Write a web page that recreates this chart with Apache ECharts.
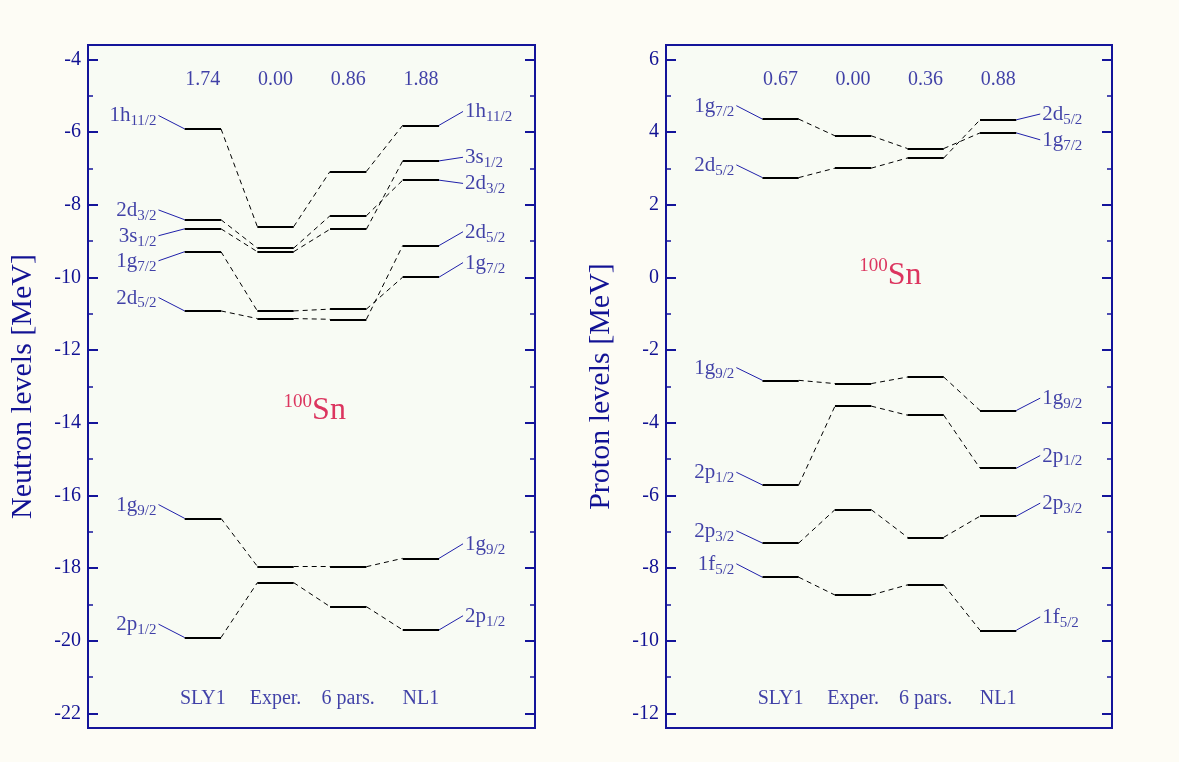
<!DOCTYPE html>
<html>
<head>
<meta charset="utf-8">
<script src="https://cdn.jsdelivr.net/npm/echarts@6/dist/echarts.min.js"></script>
<style>
html,body{margin:0;padding:0;background:#fdfcf5;}
#chart{width:1179px;height:762px;}
</style>
</head>
<body>
<div id="chart"></div>
<script>
// ---------------- data ----------------
const models = ['SLY1', 'Exper.', '6 pars.', 'NL1'];
const neutronRms = ['1.74', '0.00', '0.86', '1.88'];
const protonRms = ['0.67', '0.00', '0.36', '0.88'];

const neutronNames = ['1h', '2d', '3s', '1g', '2d', '1g', '2p'];
const neutronJ = ['11/2', '3/2', '1/2', '7/2', '5/2', '9/2', '1/2'];
const neutronSLY1 = [-5.91, -8.41, -8.66, -9.29, -10.92, -16.63, -19.91];
const neutronExper = [-8.60, -9.19, -9.29, -10.92, -11.13, -17.95, -18.40];
const neutron6pars = [-7.08, -8.30, -8.67, -10.87, -11.15, -17.96, -19.06];
const neutronNL1 = [-5.81, -7.32, -6.79, -9.99, -9.12, -17.73, -19.70];
const neutronLabelLeft = [-5.54, -8.14, -8.85, -9.54, -10.55, -16.25, -19.54];
const neutronLabelRight = [-5.43, -7.41, -6.69, -9.59, -8.74, -17.33, -19.31];

const protonNames = ['1g', '2d', '1g', '2p', '2p', '1f'];
const protonJ = ['7/2', '5/2', '9/2', '1/2', '3/2', '5/2'];
const protonSLY1 = [4.36, 2.75, -2.83, -5.71, -7.31, -8.25];
const protonExper = [3.90, 3.01, -2.92, -3.54, -6.39, -8.74];
const proton6pars = [3.55, 3.29, -2.74, -3.79, -7.15, -8.46];
const protonNL1 = [3.98, 4.34, -3.66, -5.25, -6.57, -9.71];
const protonLabelLeft = [4.73, 3.10, -2.48, -5.36, -6.97, -7.88];
const protonLabelRight = [3.79, 4.50, -3.32, -4.90, -6.21, -9.34];

const nucleus = ['100', 'Sn'];

// ---------------- styling / layout ----------------
const FONT = '"Liberation Serif", "DejaVu Serif", serif';
const AXIS = '#14149a';
const TEXT = '#121294';
const RED = '#d4043a';
const HALF = 0.25;      // half-width of a level bar (x units)
const LEAD_L = 0.36;    // leader length left
const LEAD_R = 0.33;    // leader length right

function buildPanel(gi, yi, names, js, vals, labL, labR, rms, rmsY, modY, nucPos) {
  const levels = [], conns = [], leaders = [], texts = [];
  for (let k = 0; k < names.length; k++) {
    for (let c = 0; c < vals.length; c++) {
      const x = c + 1;
      levels.push({ coords: [[x - HALF, vals[c][k]], [x + HALF, vals[c][k]]] });
      if (c < vals.length - 1) {
        conns.push({ coords: [[x + HALF, vals[c][k]], [x + 1 - HALF, vals[c + 1][k]]] });
      }
    }
    const xl = 1 - HALF, xr = vals.length + HALF;
    leaders.push({ coords: [[xl - LEAD_L, labL[k]], [xl, vals[0][k]]] });
    leaders.push({ coords: [[xr, vals[vals.length - 1][k]], [xr + LEAD_R, labR[k]]] });
    texts.push({ value: [xl - LEAD_L, labL[k]], label: { formatter: '{m|' + names[k] + '}{s|' + js[k] + '}', align: 'right', offset: [-2, 6] } });
    texts.push({ value: [xr + LEAD_R, labR[k]], label: { formatter: '{m|' + names[k] + '}{s|' + js[k] + '}', align: 'left', offset: [2, 6] } });
  }
  const heads = [];
  for (let c = 0; c < models.length; c++) {
    heads.push({ value: [c + 1, rmsY], label: { formatter: rms[c], fontSize: 20 } });
    heads.push({ value: [c + 1, modY], label: { formatter: models[c], fontSize: 20 } });
  }
  heads.push({ value: nucPos, label: { formatter: '{sup|' + nucleus[0] + '}{big|' + nucleus[1] + '}' } });

  const common = { xAxisIndex: gi, yAxisIndex: yi, animation: false, silent: true };
  return [
    Object.assign({ type: 'lines', coordinateSystem: 'cartesian2d', polyline: false, data: conns,
      lineStyle: { color: '#000', width: 1, type: [5, 4], opacity: 1 } }, common),
    Object.assign({ type: 'lines', coordinateSystem: 'cartesian2d', polyline: false, data: leaders,
      lineStyle: { color: '#2020aa', width: 1, opacity: 1 } }, common),
    Object.assign({ type: 'lines', coordinateSystem: 'cartesian2d', polyline: false, data: levels,
      lineStyle: { color: '#000', width: 2, opacity: 1 } }, common),
    Object.assign({ type: 'scatter', symbolSize: 0, data: texts,
      label: { show: true, position: 'inside', verticalAlign: 'middle', color: TEXT, fontFamily: FONT,
        rich: {
          m: { fontFamily: FONT, fontSize: 21, color: TEXT, lineHeight: 20, verticalAlign: 'top' },
          s: { fontFamily: FONT, fontSize: 15, color: TEXT, lineHeight: 32 }
        } } }, common),
    Object.assign({ type: 'scatter', symbolSize: 0, data: heads,
      label: { show: true, position: 'inside', align: 'center', verticalAlign: 'middle', color: TEXT, fontFamily: FONT,
        rich: {
          sup: { fontFamily: FONT, fontSize: 19, color: RED, lineHeight: 13, verticalAlign: 'top' },
          big: { fontFamily: FONT, fontSize: 32, color: RED, lineHeight: 37 }
        } } }, common)
  ];
}

function yAxis(gi, min, max, pos, labels, name) {
  return {
    type: 'value', gridIndex: gi, position: pos, min: min, max: max, splitNumber: 9,
    name: name, nameLocation: 'middle', nameGap: 50,
    nameTextStyle: { fontFamily: FONT, fontSize: 30, color: TEXT },
    axisLine: { show: true, onZero: false, lineStyle: { color: AXIS, width: 2 } },
    axisTick: { show: true, inside: true, length: 10, lineStyle: { color: AXIS, width: 2 } },
    minorTick: { show: true, splitNumber: 2, length: 5, lineStyle: { color: AXIS, width: 1.5 } },
    axisLabel: { show: labels, showMinLabel: false, showMaxLabel: false, margin: 7,
      fontFamily: FONT, fontSize: 20, color: TEXT },
    splitLine: { show: false }
  };
}
function xAxis(gi) {
  return { type: 'value', gridIndex: gi, min: -0.58, max: 5.57, show: false };
}

const option = {
  backgroundColor: '#fdfcf5',
  animation: false,
  grid: [
    { left: 88, top: 45, width: 447, height: 683, show: true, backgroundColor: '#f8fbf4', borderColor: AXIS, borderWidth: 2 },
    { left: 666, top: 45, width: 446, height: 683, show: true, backgroundColor: '#f8fbf4', borderColor: AXIS, borderWidth: 2 }
  ],
  xAxis: [xAxis(0), xAxis(1)],
  yAxis: [
    yAxis(0, -22.4, -3.6, 'left', true, 'Neutron levels [MeV]'),
    yAxis(0, -22.4, -3.6, 'right', false, ''),
    yAxis(1, -12.4, 6.4, 'left', true, 'Proton levels [MeV]'),
    yAxis(1, -12.4, 6.4, 'right', false, '')
  ],
  series: [].concat(
    buildPanel(0, 0, neutronNames, neutronJ, [neutronSLY1, neutronExper, neutron6pars, neutronNL1],
      neutronLabelLeft, neutronLabelRight, neutronRms, -4.55, -21.6, [2.54, -13.67]),
    buildPanel(1, 2, protonNames, protonJ, [protonSLY1, protonExper, proton6pars, protonNL1],
      protonLabelLeft, protonLabelRight, protonRms, 5.45, -11.6, [2.515, 0.055])
  )
};

const chart = echarts.init(document.getElementById('chart'), null, { renderer: 'canvas' });
chart.setOption(option);
</script>
</body>
</html>
